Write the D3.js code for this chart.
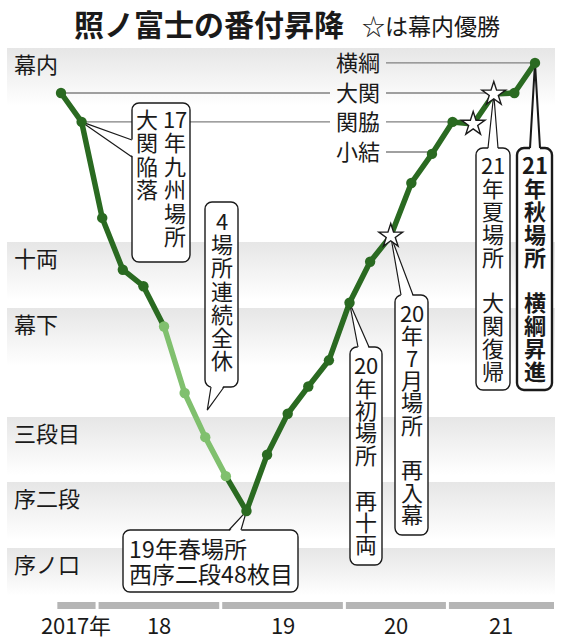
<html>
<head>
<meta charset="utf-8">
<script src="https://d3js.org/d3.v7.min.js"></script>
<style>
  /* same face, with the ideographic em box as line metrics */
  @font-face { font-family: 'JP'; font-weight: 400;
    src: local('Noto Sans CJK JP Regular'), local('NotoSansCJKjp-Regular'), local('Noto Sans CJK JP');
    ascent-override: 88%; descent-override: 12%; line-gap-override: 0%; }
  @font-face { font-family: 'JP'; font-weight: 700;
    src: local('Noto Sans CJK JP Bold'), local('NotoSansCJKjp-Bold');
    ascent-override: 88%; descent-override: 12%; line-gap-override: 0%; }
  body { margin: 0; background: #fff; }
  text { font-family: 'JP', 'Noto Sans CJK JP', 'Noto Sans', sans-serif; fill: #1a1a1a; }
</style>
</head>
<body>
<svg id="chart" width="572" height="640"></svg>
<script>
// 場所 (x axis categories)
const basho = ['2017-09','2017-11','2018-01','2018-03','2018-05','2018-07','2018-09','2018-11',
  '2019-01','2019-03','2019-05','2019-07','2019-09','2019-11',
  '2020-01','2020-03','2020-07','2020-09','2020-11',
  '2021-01','2021-03','2021-05','2021-07','2021-09'];
// banzuke position: integer part = division index, fraction = depth inside the division
const rankLevel = [0.232, 0.381, 0.876, 1.42, 1.67, 2.17, 2.78, 3.31,
  3.91, 4.44, 3.58, 2.97, 2.72, 2.48,
  1.92, 1.30, 0.969, 0.696, 0.546,
  0.381, 0.392, 0.237, 0.232, 0.077];
const absentBasho = ['2018-07','2018-09','2018-11','2019-01'];
const yushoBasho = ['2020-07','2021-03','2021-05'];

const divisions = ['幕内','十両','幕下','三段目','序二段','序ノ口'];
const sanyaku = ['横綱','大関','関脇','小結'];
const sanyakuLevel = [0.077, 0.232, 0.381, 0.536];
const sanyakuFrom = [null, '2017-09', '2017-11', null];
const sanyakuTo = ['2021-09', '2021-05', '2021-01', '2020-11'];

const yearLabels = ['2017年','18','19','20','21'];
const yearKeys = ['2017','2018','2019','2020','2021'];

const svg = d3.select('#chart');
const plotL = 7, plotR = 555;

const x = d3.scalePoint().domain(basho).range([61, 535]);
const step = x.step();
const y = d3.scaleLinear().domain([0, 1, 2, 3, 4, 5, 6]).range([48, 242, 308, 417, 482, 548, 596]);

// gradient for division bands
const defs = svg.append('defs');
const grad = defs.append('linearGradient').attr('id', 'band').attr('x1', 0).attr('y1', 0).attr('x2', 0).attr('y2', 1);
grad.append('stop').attr('offset', '0%').attr('stop-color', '#e6e6e6');
grad.append('stop').attr('offset', '100%').attr('stop-color', '#ffffff');

// title
svg.append('text').attr('x', 74).attr('y', 36)
  .style('font-size', '30px').style('font-weight', 700).text('照ノ富士の番付昇降');
svg.append('text').attr('x', 362).attr('y', 35)
  .style('font-size', '23px').text('☆は幕内優勝');

// bands
svg.append('g').selectAll('rect').data(divisions).join('rect')
  .attr('x', plotL).attr('width', plotR - plotL)
  .attr('y', (d, i) => y(i))
  .attr('height', (d, i) => Math.min(y(i + 1) - y(i), 58))
  .attr('fill', 'url(#band)');

svg.append('g').selectAll('text').data(divisions).join('text')
  .attr('x', 14).attr('y', (d, i) => y(i) + 17)
  .attr('dominant-baseline', 'central')
  .style('font-size', '22px').text(d => d);

// sanyaku level lines
const lv = svg.append('g').attr('stroke', '#808080').attr('stroke-width', 1.3);
sanyaku.forEach((s, i) => {
  const yy = y(sanyakuLevel[i]);
  lv.append('line').attr('x1', 386).attr('x2', x(sanyakuTo[i])).attr('y1', yy).attr('y2', yy);
  if (sanyakuFrom[i]) lv.append('line').attr('x1', x(sanyakuFrom[i])).attr('x2', 330).attr('y1', yy).attr('y2', yy);
});
svg.append('g').selectAll('text').data(sanyaku).join('text')
  .attr('x', 380).attr('y', (d, i) => y(sanyakuLevel[i]))
  .attr('text-anchor', 'end').attr('dominant-baseline', 'central')
  .style('font-size', '22px').text(d => d);

// year timeline
const yearG = svg.append('g');
yearKeys.forEach((k, i) => {
  const ids = basho.filter(b => b.startsWith(k));
  const x0 = x(ids[0]) - step * 0.25 + 1.5;
  const x1 = i === yearKeys.length - 1 ? plotR - 1 : x(ids[ids.length - 1]) + step * 0.75 - 1.5;
  yearG.append('rect').attr('x', x0).attr('y', 602).attr('width', x1 - x0).attr('height', 7).attr('fill', '#b5b5b5');
  yearG.append('text').attr('x', (x0 + x1) / 2).attr('y', 634).attr('text-anchor', 'middle')
    .style('font-size', '22px').text(yearLabels[i]);
});

// callouts
const pt = b => [x(b), y(rankLevel[basho.indexOf(b)])];
const callouts = [
  { box: [132, 103, 58, 159], top: 108, step: 23.5,
    cols: [[175, ['17','年','九','州','場','所']], [147, ['大','関','陥','落']]],
    tip: pt('2017-11'), base: [[132, 140], [132, 157]] },
  { box: [205, 202, 33, 185], top: 210, step: 23.3,
    cols: [[221.5, ['4','場','所','連','続','全','休']]],
    tip: [x('2018-11') + 2, (pt('2018-09')[1] + pt('2018-11')[1]) / 2 - 5], base: [[211, 387], [224, 387]] },
  { box: [123, 530, 175, 62], lines: ['19年春場所', '西序二段48枚目'],
    tip: pt('2019-03'), base: [[229, 530], [241, 530]] },
  { box: [350, 347, 32, 218], top: 355, step: 22.4,
    cols: [[366, ['20','年','初','場','所','','再','十','両']]],
    tip: pt('2020-01'), base: [[358, 347], [369, 347]] },
  { box: [395, 295, 33, 240], top: 303, step: 22.3,
    cols: [[411.5, ['20','年','7','月','場','所','','再','入','幕']]],
    tip: pt('2020-07'), base: [[401, 295], [413, 295]] },
  { box: [476, 148, 34, 242], top: 155, step: 22.8,
    cols: [[493, ['21','年','夏','場','所','','大','関','復','帰']]],
    tip: pt('2021-05'), base: [[488, 148], [498, 148]] },
  { box: [517, 148, 35, 242], top: 155, step: 22.8, bold: true,
    cols: [[534.5, ['21','年','秋','場','所','','横','綱','昇','進']]],
    tip: pt('2021-09'), base: [[530, 148], [540, 148]] }
];

const cg = svg.append('g');
callouts.forEach(c => {
  const sw = c.bold ? 2.4 : 1.4;
  const g = cg.append('g');
  g.append('rect').attr('x', c.box[0]).attr('y', c.box[1]).attr('width', c.box[2]).attr('height', c.box[3])
    .attr('rx', 7).attr('fill', '#fff').attr('stroke', '#1a1a1a').attr('stroke-width', sw);
  // pointer: white wedge over the box edge, then its two sides
  const [b1, b2] = c.base;
  const inset = (p) => {
    const dx = p[0] === c.box[0] ? 2 : 0, dy = p[1] === c.box[1] ? 2 : (p[1] === c.box[1] + c.box[3] ? -2 : 0);
    return [p[0] + dx, p[1] + dy];
  };
  g.append('path').attr('d', d3.line()([inset(b1), c.tip, inset(b2)]) + 'Z').attr('fill', '#fff');
  g.append('path').attr('d', d3.line()([b1, c.tip, b2])).attr('fill', 'none')
    .attr('stroke', '#1a1a1a').attr('stroke-width', sw * 0.85).attr('stroke-linejoin', 'miter');
  if (c.cols) {
    // one text per column, each character stacked as a tspan
    c.cols.forEach(([cx, toks]) => {
      g.append('text')
        .attr('text-anchor', 'middle').attr('dominant-baseline', 'central')
        .style('font-size', '22px').style('font-weight', c.bold ? 700 : 400)
        .selectAll('tspan').data(toks.map((t, i) => ({ t, i })).filter(d => d.t)).join('tspan')
        .attr('x', cx).attr('y', d => c.top + (d.i + 0.5) * c.step)
        .text(d => d.t);
    });
  }
  if (c.lines) {
    g.append('text').style('font-size', '23px')
      .selectAll('tspan').data(c.lines).join('tspan')
      .attr('x', c.box[0] + 6).attr('y', (d, i) => c.box[1] + 28 + i * 25)
      .text(d => d);
  }
});

// data line
const dark = '#2a6a21', light = '#80c06e';
const isAbs = b => absentBasho.includes(b);
const segs = d3.pairs(basho);
svg.append('g').selectAll('line').data(segs).join('line')
  .attr('x1', d => pt(d[0])[0]).attr('y1', d => pt(d[0])[1])
  .attr('x2', d => pt(d[1])[0]).attr('y2', d => pt(d[1])[1])
  .attr('stroke', d => isAbs(d[0]) && isAbs(d[1]) ? light : dark)
  .attr('stroke-width', 5.5).attr('stroke-linecap', 'round');

svg.append('g').selectAll('circle').data(basho.filter(b => !yushoBasho.includes(b))).join('circle')
  .attr('cx', d => pt(d)[0]).attr('cy', d => pt(d)[1]).attr('r', 5.2)
  .attr('fill', d => isAbs(d) ? light : dark);

svg.append('g').selectAll('path').data(yushoBasho).join('path')
  .attr('transform', d => `translate(${pt(d)[0]},${pt(d)[1]})`)
  .attr('d', d3.symbol(d3.symbolStar, 175))
  .attr('fill', '#fff').attr('stroke', '#1a1a1a').attr('stroke-width', 1.4).attr('stroke-linejoin', 'miter');
</script>
</body>
</html>
